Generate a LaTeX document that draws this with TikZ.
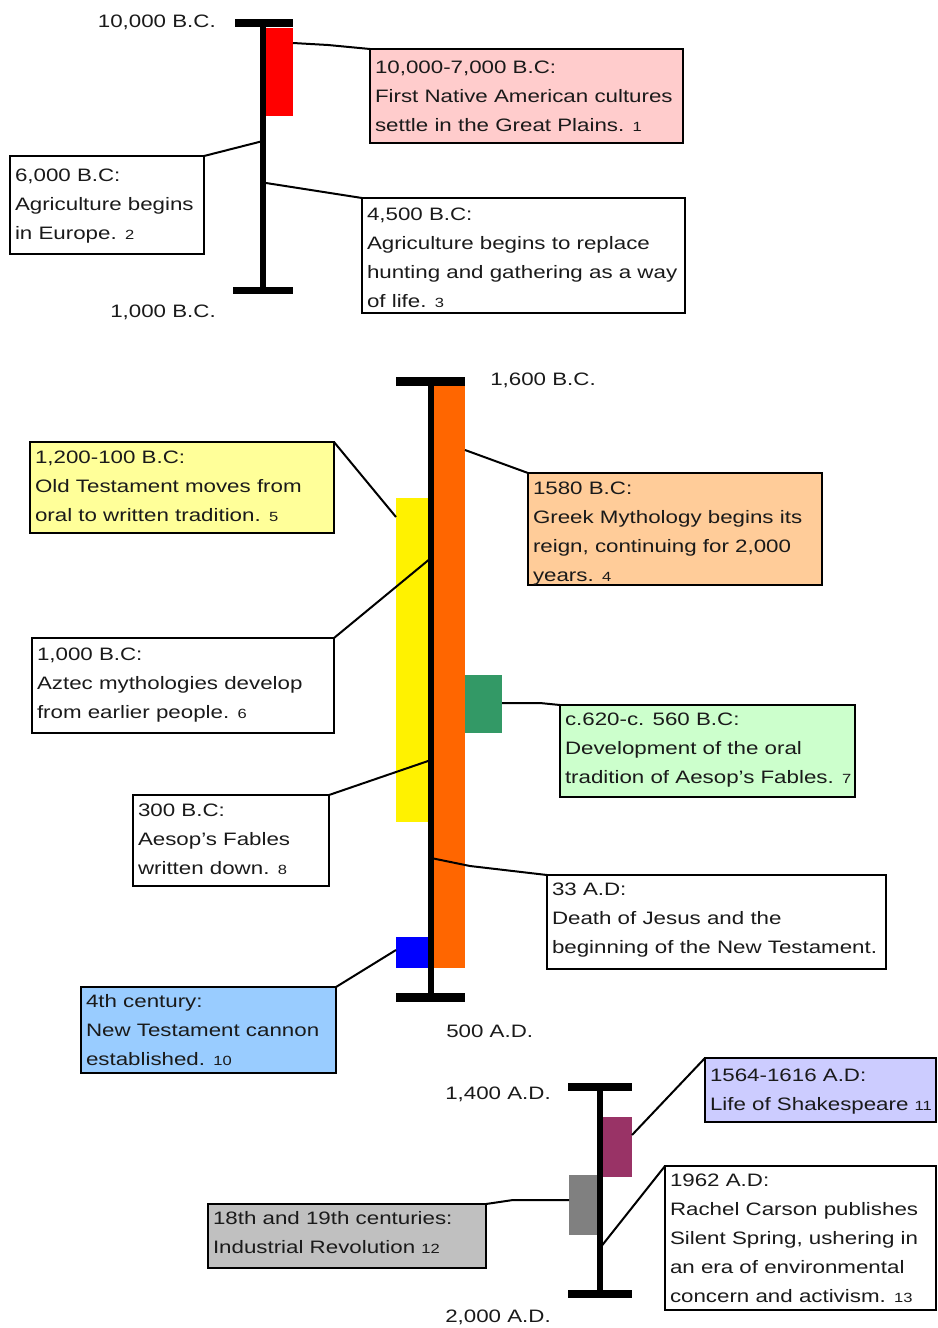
\documentclass[tikz,border=0pt]{standalone}
\usepackage{fontspec}
\setmainfont{Liberation Sans}[FakeStretch=1.24]
\usetikzlibrary{calc}
\newdimen\pxu \pxu=0.75pt
% #1 width, #2 height, #3 first baseline offset, #4 lines
\newcommand{\evt}[4]{\parbox[c][#2\pxu][t]{#1\pxu}{\leftskip=5\pxu\rule{0pt}{#3\pxu}#4}}
\newcommand{\fn}[1]{{\fontsize{10}{10}\selectfont #1}}
\definecolor{pinkbox}{HTML}{FFCCCC}
\definecolor{orangebar}{HTML}{FF6600}
\definecolor{ltyellow}{HTML}{FFFF99}
\definecolor{ltorange}{HTML}{FFCC99}
\definecolor{greenbar}{HTML}{339966}
\definecolor{ltgreen}{HTML}{CCFFCC}
\definecolor{ltblue}{HTML}{99CCFF}
\definecolor{maroonbar}{HTML}{993366}
\definecolor{lavbox}{HTML}{CCCCFF}
\definecolor{graybar}{HTML}{808080}
\definecolor{silverbox}{HTML}{C0C0C0}
\definecolor{txt}{HTML}{1A1A1A}
\begin{document}
\begin{tikzpicture}[x=0.75pt,y=-0.75pt,
  every node/.style={font=\fontsize{13.5}{21.75}\selectfont, text=txt},
  ev/.style={draw=black, line width=2\pxu, inner sep=0pt, outer sep=0pt, anchor=north west},
  conn/.style={draw=black, line width=2\pxu, line join=round},
  seg/.style={fill=#1, inner sep=0pt, outer sep=0pt, anchor=north west},
  axis/.style={line width=6\pxu},
  lab/.style={inner sep=0pt}]
\useasboundingbox[fill=white] (0,0) rectangle (938,1328);

%================ Timeline 1 =================
\node[seg=red, minimum width=27\pxu, minimum height=88\pxu] (r1) at (266,28) {};
\coordinate (a1t) at (263,23);
\coordinate (a1b) at (263,290);
\draw[axis] (a1t) -- (a1b);
\fill (235,19) rectangle (293,27);
\fill (233,287) rectangle (293,294);
\node[lab, anchor=base east] (l1) at (216,27) {10,000 B.C.};
\node[lab, anchor=base east] (l2) at (216,317) {1,000 B.C.};

\node[ev, fill=pinkbox] (e1) at (370,49) {\evt{313}{94}{24.5}{\mbox{10,000-7,000 B.C:}\\\mbox{First Native American cultures}\\\mbox{settle in the Great Plains. \fn{1}}}};
\node[ev, fill=white] (e2) at (10,156) {\evt{194}{98}{25.5}{\mbox{6,000 B.C:}\\\mbox{Agriculture begins}\\\mbox{in Europe. \fn{2}}}};
\node[ev, fill=white] (e3) at (362,198) {\evt{323}{115}{22.5}{\mbox{4,500 B.C:}\\\mbox{Agriculture begins to replace}\\\mbox{hunting and gathering as a way}\\\mbox{of life. \fn{3}}}};

\coordinate (p2) at (263,141);
\coordinate (p3) at (266,183);
\draw[conn] ($(r1.north east)+(0,15)$) -- (328,45) -- (e1.north west);
\draw[conn] (p2) -- (e2.north east);
\draw[conn] (p3) -- (e3.north west);

%================ Timeline 2 =================
\node[seg=orangebar, minimum width=31\pxu, minimum height=583\pxu] (r4) at (434,385) {};
\node[seg=yellow, minimum width=32\pxu, minimum height=324\pxu] (r5) at (396,498) {};
\node[seg=greenbar, minimum width=37\pxu, minimum height=58\pxu] (r7) at (465,675) {};
\node[seg=blue, minimum width=32\pxu, minimum height=31\pxu] (r10) at (396,937) {};
\coordinate (a2t) at (431,380);
\coordinate (a2b) at (431,997);
\draw[axis] (a2t) -- (a2b);
\fill (396,377) rectangle (465,386);
\fill (396,993) rectangle (465,1002);
\node[lab, anchor=base west] (l3) at (490,385) {1,600 B.C.};
\node[lab, anchor=base west] (l4) at (446,1037) {500 A.D.};

\node[ev, fill=ltorange] (e4) at (528,473) {\evt{294}{112}{21.5}{\mbox{1580 B.C:}\\\mbox{Greek Mythology begins its}\\\mbox{reign, continuing for 2,000}\\\mbox{years. \fn{4}}}};
\node[ev, fill=ltyellow] (e5) at (30,442) {\evt{304}{91}{21.5}{\mbox{1,200-100 B.C:}\\\mbox{Old Testament moves from}\\\mbox{oral to written tradition. \fn{5}}}};
\node[ev, fill=white] (e6) at (32,638) {\evt{302}{95}{22.5}{\mbox{1,000 B.C:}\\\mbox{Aztec mythologies develop}\\\mbox{from earlier people. \fn{6}}}};
\node[ev, fill=ltgreen] (e7) at (560,705) {\evt{295}{92}{20.5}{\mbox{c.620-c. 560 B.C:}\\\mbox{Development of the oral}\\\mbox{tradition of Aesop's Fables. \fn{7}}}};
\node[ev, fill=white] (e8) at (133,795) {\evt{196}{91}{21.5}{\mbox{300 B.C:}\\\mbox{Aesop's Fables}\\\mbox{written down. \fn{8}}}};
\node[ev, fill=white] (e9) at (547,875) {\evt{339}{94}{20.5}{\mbox{33 A.D:}\\\mbox{Death of Jesus and the}\\\mbox{beginning of the New Testament.}}};
\node[ev, fill=ltblue] (e10) at (81,987) {\evt{255}{86}{20.5}{\mbox{4th century:}\\\mbox{New Testament cannon}\\\mbox{established. \fn{10}}}};

\coordinate (p6) at (431,558);
\coordinate (p8) at (431,760);
\coordinate (p9) at (431,858);
\draw[conn] ($(r4.north east)+(0,65)$) -- (e4.north west);
\draw[conn] (e5.north east) -- ($(r5.north west)+(0,19)$);
\draw[conn] (e6.north east) -- (p6);
\draw[conn] ($(r7.north east)+(0,28)$) -- (540,703) -- (e7.north west);
\draw[conn] (p8) -- (e8.north east);
\draw[conn] (p9) -- (470,866) -- (e9.north west);
\draw[conn] ($(r10.north west)+(0,13)$) -- (e10.north east);

%================ Timeline 3 =================
\node[seg=maroonbar, minimum width=29\pxu, minimum height=60\pxu] (r11) at (603,1117) {};
\node[seg=graybar, minimum width=28\pxu, minimum height=60\pxu] (r12) at (569,1175) {};
\coordinate (a3t) at (600,1087);
\coordinate (a3b) at (600,1294);
\draw[axis] (a3t) -- (a3b);
\fill (568,1083) rectangle (632,1091);
\fill (568,1290) rectangle (632,1298);
\node[lab, anchor=base east] (l5) at (551,1099) {1,400 A.D.};
\node[lab, anchor=base east] (l6) at (551,1322) {2,000 A.D.};

\node[ev, fill=lavbox] (e11) at (705,1058) {\evt{231}{64}{23.5}{\mbox{1564-1616 A.D:}\\\mbox{Life of Shakespeare \fn{11}}}};
\node[ev, fill=silverbox] (e12) at (208,1204) {\evt{278}{64}{20.5}{\mbox{18th and 19th centuries:}\\\mbox{Industrial Revolution \fn{12}}}};
\node[ev, fill=white] (e13) at (665,1166) {\evt{271}{144}{20.5}{\mbox{1962 A.D:}\\\mbox{Rachel Carson publishes}\\\mbox{Silent Spring, ushering in}\\\mbox{an era of environmental}\\\mbox{concern and activism. \fn{13}}}};

\coordinate (p13) at (600,1248);
\draw[conn] ($(r11.north east)+(0,18)$) -- (e11.north west);
\draw[conn] ($(r12.north west)+(0,25)$) -- (513,1200) -- (e12.north east);
\draw[conn] (p13) -- (e13.north west);
\end{tikzpicture}
\end{document}
